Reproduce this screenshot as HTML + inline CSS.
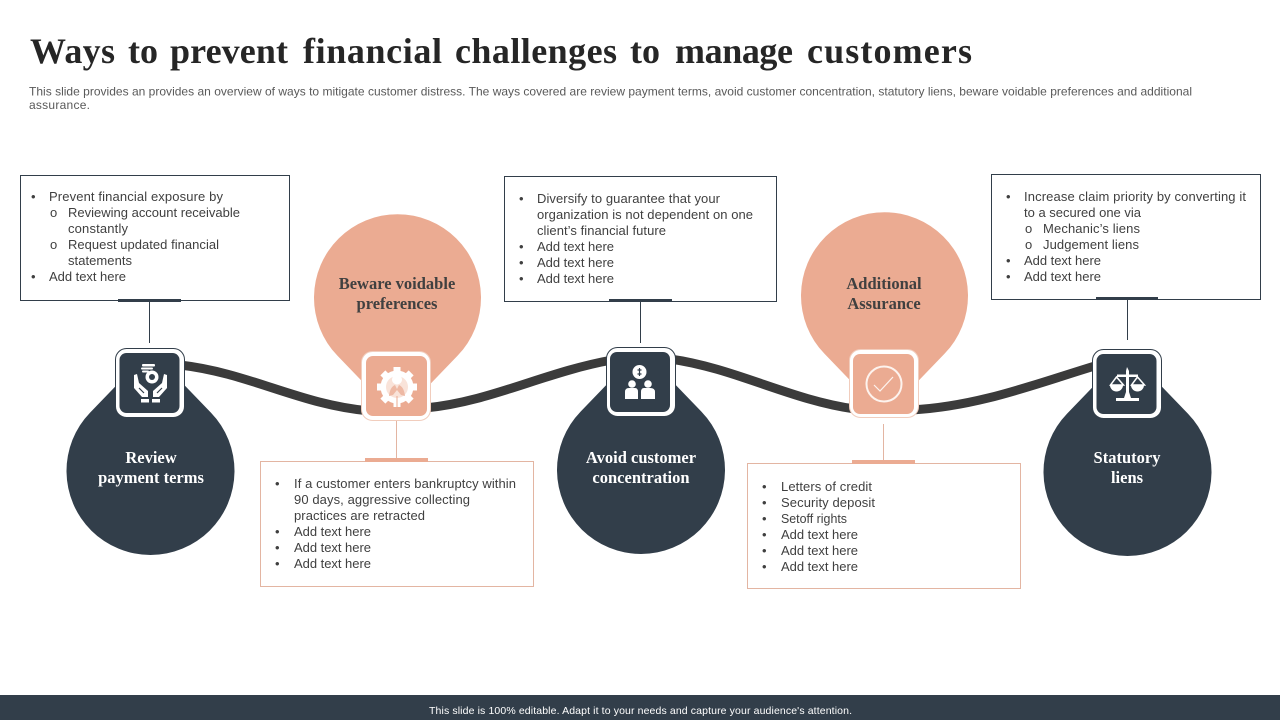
<!DOCTYPE html>
<html><head><meta charset="utf-8"><style>
html,body{margin:0;padding:0;background:#fff;width:1280px;height:720px;overflow:hidden}
svg{display:block}
.b{font-family:"Liberation Sans",sans-serif;font-size:13px;fill:#404040}
.h{font-family:"Liberation Serif",serif;font-weight:bold;font-size:16.500px;text-anchor:middle}
.t{font-family:"Liberation Serif",serif;font-weight:bold;font-size:36px;fill:#262626}
</style></head><body>
<svg width="1280" height="720" viewBox="0 0 1280 720" xmlns="http://www.w3.org/2000/svg">
<text x="30" y="63" class="t" textLength="85">Ways</text>
<text x="128" y="63" class="t" textLength="30">to</text>
<text x="170" y="63" class="t" textLength="118">prevent</text>
<text x="303" y="63" class="t" textLength="139">financial</text>
<text x="455" y="63" class="t" textLength="162">challenges</text>
<text x="630" y="63" class="t" textLength="30">to</text>
<text x="675" y="63" class="t" textLength="118">manage</text>
<text x="807" y="63" class="t" textLength="165">customers</text>
<g font-family="Liberation Sans,sans-serif" font-size="12" fill="#595959">
<text x="29" y="95.500" textLength="1163">This slide provides an provides an overview of ways to mitigate customer distress. The ways covered are review payment terms, avoid customer concentration, statutory liens, beware voidable preferences and additional</text>
<text x="29" y="109" textLength="61">assurance.</text>
</g>

<!-- drops -->
<g fill="#323e4a">
<path d="M150.500,350 L210.900,412.600 A84,84 0 1 1 90.100,412.600 Z"/>
<path d="M641,349 L701.400,411.600 A84,84 0 1 1 580.600,411.600 Z"/>
<path d="M1127.500,351 L1187.900,413.600 A84,84 0 1 1 1067.100,413.600 Z"/>
</g>
<g fill="#ebab92">
<path d="M397.500,418 L457.500,355.800 A83.500,83.500 0 1 0 337.500,355.800 Z"/>
<path d="M884.500,416 L944.500,353.800 A83.500,83.500 0 1 0 824.500,353.800 Z"/>
</g>

<!-- wave -->
<g fill="none" stroke="#3b3b3b" stroke-width="9">
<path d="M180,365 C250,373 300,405 370,411"/>
<path d="M425,408 C490,402 545,372 612,360"/>
<path d="M670,359 C735,368 790,400 855,409"/>
<path d="M912,410 C980,406 1035,384 1098,365"/>
</g>

<!-- boxes -->
<g fill="#fff" stroke="#323e4a" stroke-width="1">
<rect x="20.500" y="175.500" width="269" height="125"/>
<rect x="504.500" y="176.500" width="272" height="125"/>
<rect x="991.500" y="174.500" width="269" height="125"/>
</g>
<g fill="#fff" stroke="#e3b5a2" stroke-width="1">
<rect x="260.500" y="461.500" width="273" height="125"/>
<rect x="747.500" y="463.500" width="273" height="125"/>
</g>
<g fill="#323e4a">
<rect x="118" y="299" width="63" height="3"/>
<rect x="609" y="299" width="63" height="3"/>
<rect x="1096" y="297" width="62" height="3"/>
</g>
<g fill="#ebab92">
<rect x="365" y="458" width="63" height="4"/>
<rect x="852" y="460" width="63" height="4"/>
</g>
<g stroke-width="1">
<path d="M149.500,302V343M640.500,302V343M1127.500,300V340" stroke="#323e4a"/>
<path d="M396.500,421V458M883.500,424V460" stroke="#e3b5a2"/>
</g>

<!-- icon tiles -->
<g>
<rect x="115.500" y="348.500" width="69" height="69" rx="11" fill="#fff" stroke="#323e4a"/>
<rect x="119.500" y="353" width="60" height="60" rx="7" fill="#323e4a"/>
<rect x="606.500" y="347.500" width="69" height="69" rx="11" fill="#fff" stroke="#323e4a"/>
<rect x="610" y="352" width="60" height="60" rx="7" fill="#323e4a"/>
<rect x="1092.500" y="349.500" width="69" height="69" rx="11" fill="#fff" stroke="#323e4a"/>
<rect x="1096.500" y="354" width="60" height="60" rx="7" fill="#323e4a"/>
<rect x="361.500" y="351.500" width="69" height="69" rx="11" fill="#fff" stroke="#f1cdbd"/>
<rect x="366" y="356" width="61" height="60" rx="7" fill="#ebab92"/>
<rect x="849.500" y="349.500" width="69" height="68" rx="11" fill="#fff" stroke="#f1cdbd"/>
<rect x="853" y="354" width="61" height="60" rx="7" fill="#ebab92"/>
</g>

<!-- icon: hands -->
<g fill="#fff">
<circle cx="152" cy="377" r="6.500"/>
<rect x="142" y="364" width="13" height="2.500" rx="1"/>
<rect x="141" y="367.500" width="12" height="2" rx="1"/>
<rect x="142" y="370.500" width="7" height="2" rx="1"/>
<rect x="141" y="399" width="8" height="3.500"/>
<rect x="152" y="399" width="8" height="3.500"/>
<path d="M134,375l3,-1l2,9l9,8v6h-6l-8,-9z"/>
<path d="M167,375l-3,-1l-2,9l-9,8v6h6l8,-9z"/>
</g>
<path d="M139,388l5,5M162,388l-5,5" stroke="#323e4a" stroke-width="1.200" fill="none"/>
<circle cx="152" cy="377" r="3" fill="#323e4a"/>

<!-- icon: people -->
<g fill="#fff">
<circle cx="639.500" cy="372" r="7"/>
<circle cx="632" cy="384" r="3.800"/><circle cx="648" cy="384" r="3.800"/>
<path d="M625,399v-7q0,-4 4,-4h6q3,0 3,4v7z"/>
<path d="M641,399v-7q0,-4 3,-4h6q5,0 5,4v7z"/>
</g>
<path d="M639.500,368v8M637.500,370h4M637.500,374h4" stroke="#323e4a" stroke-width="1.200"/>

<!-- icon: scales -->
<g fill="#fff">
<path d="M1127,367l2,4v3.500h9v2.500h-9v15l2,6h8v3h-23v-3h8l2,-6v-15h-9v-2.500h9v-3.500z"/>
<path d="M1110,385h13a6.500,6.500 0 0 1 -13,0z"/>
<path d="M1131,385h13a6.500,6.500 0 0 1 -13,0z"/>
</g>
<path d="M1116.500,377l-6,8h13zM1137.500,377l-6,8h13z" fill="none" stroke="#fff" stroke-width="1.500"/>

<!-- icon: gear -->
<g fill="#fff">
<circle cx="397" cy="387" r="16.500"/>
<path d="M393.500,367h7v6h-7z"/>
<path d="M393.500,367h7v6h-7z" transform="rotate(45 397 387)"/>
<path d="M393.500,367h7v6h-7z" transform="rotate(90 397 387)"/>
<path d="M393.500,367h7v6h-7z" transform="rotate(135 397 387)"/>
<path d="M393.500,367h7v6h-7z" transform="rotate(180 397 387)"/>
<path d="M393.500,367h7v6h-7z" transform="rotate(225 397 387)"/>
<path d="M393.500,367h7v6h-7z" transform="rotate(270 397 387)"/>
<path d="M393.500,367h7v6h-7z" transform="rotate(315 397 387)"/>
</g>
<circle cx="397" cy="387" r="11" fill="#f9e3d9"/>
<path d="M389,396q1,-9 6,-11l2,4l2,-4q5,2 6,11l-4,-1l-4,-5l-4,5z" fill="#eeb9a4"/>
<circle cx="397" cy="379.500" r="5" fill="#fff"/>
<path d="M397,396v11" stroke="#ebab92" stroke-width="1"/>

<!-- icon: check -->
<circle cx="884" cy="384" r="17.500" fill="none" stroke="#fdf3ee" stroke-width="2"/>
<path d="M874,385l6,6l13,-14" fill="none" stroke="#fdf3ee" stroke-width="1.200"/>

<!-- headings -->
<text x="151" y="463" class="h" fill="#fff">Review</text>
<text x="151" y="483" class="h" fill="#fff">payment terms</text>
<text x="641" y="463" class="h" fill="#fff">Avoid customer</text>
<text x="641" y="483" class="h" fill="#fff">concentration</text>
<text x="1127" y="463" class="h" fill="#fff">Statutory</text>
<text x="1127" y="483" class="h" fill="#fff">liens</text>
<text x="397" y="289" class="h" fill="#404040">Beware voidable</text>
<text x="397" y="309" class="h" fill="#404040">preferences</text>
<text x="884" y="289" class="h" fill="#404040">Additional</text>
<text x="884" y="309" class="h" fill="#404040">Assurance</text>

<!-- box 1 -->
<g class="b">
<text x="31" y="201">•</text><text x="49" y="201" textLength="174">Prevent financial exposure by</text>
<text x="50" y="217">o</text><text x="68" y="217" textLength="172">Reviewing account receivable</text>
<text x="68" y="233" textLength="60">constantly</text>
<text x="50" y="249">o</text><text x="68" y="249" textLength="151">Request updated financial</text>
<text x="68" y="265" textLength="64">statements</text>
<text x="31" y="281">•</text><text x="49" y="281" textLength="77">Add text here</text>
</g>
<!-- box 3 -->
<g class="b">
<text x="519" y="203">•</text><text x="537" y="203" textLength="183">Diversify to guarantee that your</text>
<text x="537" y="219" textLength="216">organization is not dependent on one</text>
<text x="537" y="235" textLength="129">client’s financial future</text>
<text x="519" y="251">•</text><text x="537" y="251" textLength="77">Add text here</text>
<text x="519" y="267">•</text><text x="537" y="267" textLength="77">Add text here</text>
<text x="519" y="283">•</text><text x="537" y="283" textLength="77">Add text here</text>
</g>
<!-- box 5 -->
<g class="b">
<text x="1006" y="201">•</text><text x="1024" y="201" textLength="222">Increase claim priority by converting it</text>
<text x="1024" y="217" textLength="117">to a secured one via</text>
<text x="1025" y="233">o</text><text x="1043" y="233" textLength="97">Mechanic’s liens</text>
<text x="1025" y="249">o</text><text x="1043" y="249" textLength="96">Judgement liens</text>
<text x="1006" y="265">•</text><text x="1024" y="265" textLength="77">Add text here</text>
<text x="1006" y="281">•</text><text x="1024" y="281" textLength="77">Add text here</text>
</g>
<!-- box 2 -->
<g class="b">
<text x="275" y="488">•</text><text x="294" y="488" textLength="222">If a customer enters bankruptcy within</text>
<text x="294" y="504" textLength="176">90 days, aggressive collecting</text>
<text x="294" y="520" textLength="131">practices are retracted</text>
<text x="275" y="536">•</text><text x="294" y="536" textLength="77">Add text here</text>
<text x="275" y="552">•</text><text x="294" y="552" textLength="77">Add text here</text>
<text x="275" y="568">•</text><text x="294" y="568" textLength="77">Add text here</text>
</g>
<!-- box 4 -->
<g class="b">
<text x="762" y="491">•</text><text x="781" y="491" textLength="91">Letters of credit</text>
<text x="762" y="507">•</text><text x="781" y="507" textLength="94">Security deposit</text>
<text x="762" y="523">•</text><text x="781" y="523" textLength="66" lengthAdjust="spacingAndGlyphs">Setoff rights</text>
<text x="762" y="539">•</text><text x="781" y="539" textLength="77">Add text here</text>
<text x="762" y="555">•</text><text x="781" y="555" textLength="77">Add text here</text>
<text x="762" y="571">•</text><text x="781" y="571" textLength="77">Add text here</text>
</g>

<!-- footer -->
<rect x="0" y="695" width="1280" height="25" fill="#323e4a"/>
<text x="429" y="714" font-family="Liberation Sans,sans-serif" font-size="10.500" fill="#fff" textLength="423">This slide is 100% editable. Adapt it to your needs and capture your audience's attention.</text>
</svg>
</body></html>
